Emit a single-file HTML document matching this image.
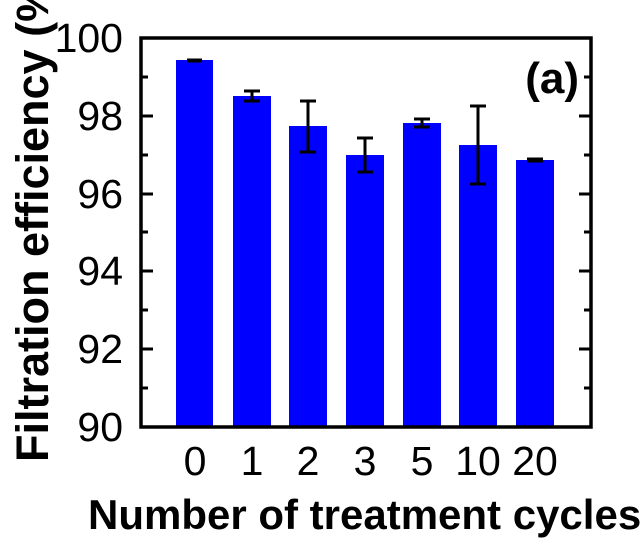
<!DOCTYPE html>
<html><head><style>
html,body{margin:0;padding:0;background:#fff;}
svg{display:block;}
text{font-family:"Liberation Sans",Arial,sans-serif;}
</style></head><body>
<svg width="640" height="550" viewBox="0 0 640 550" xmlns="http://www.w3.org/2000/svg">
<rect width="640" height="550" fill="#fff"/>
<g fill="#0000ff" stroke="none">
<rect x="176" y="60" width="37" height="367"/>
<rect x="233" y="96" width="38" height="331"/>
<rect x="289" y="126" width="38" height="301"/>
<rect x="346" y="155" width="38" height="272"/>
<rect x="403" y="123" width="38" height="304"/>
<rect x="459" y="145" width="38" height="282"/>
<rect x="516" y="160" width="38" height="267"/>
</g>
<g stroke="#000" stroke-width="3" fill="none">
<path d="M187 60H202M187 61H202"/>
<path d="M252 91V101M244 91H260M244 101H260"/>
<path d="M308 101V152M300 101H316M300 152H316"/>
<path d="M365 138V172M357 138H373M357 172H373"/>
<path d="M422 119V127M414 119H430M414 127H430"/>
<path d="M478 106V184M470 106H486M470 184H486"/>
<path d="M527 159H543M527 161H543"/>
</g>
<rect x="141" y="38" width="450" height="389" fill="none" stroke="#000" stroke-width="3.5"/>
<g stroke="#000" stroke-width="3">
<path d="M141 116H153M141 194H153M141 271H153M141 349H153"/>
<path d="M141 77H148M141 155H148M141 232H148M141 310H148M141 388H148"/>
<path d="M591 116H579M591 194H579M591 271H579M591 349H579"/>
<path d="M591 77H584M591 155H584M591 232H584M591 310H584M591 388H584"/>
</g>
<g font-size="41" text-anchor="end" fill="#000">
<text x="123" y="52">100</text>
<text x="123" y="130">98</text>
<text x="123" y="208">96</text>
<text x="123" y="285">94</text>
<text x="123" y="363">92</text>
<text x="123" y="441">90</text>
</g>
<g font-size="41" text-anchor="middle" fill="#000">
<text x="195" y="475">0</text>
<text x="252" y="475">1</text>
<text x="308" y="475">2</text>
<text x="365" y="475">3</text>
<text x="422" y="475">5</text>
<text x="478" y="475">10</text>
<text x="535" y="475">20</text>
</g>
<text x="579" y="93" font-size="44" font-weight="bold" text-anchor="end">(a)</text>
<text x="88" y="529" font-size="42" font-weight="bold">Number of treatment cycles</text>
<text transform="translate(48,462) rotate(-90)" font-size="45" font-weight="bold">Filtration efficiency (%)</text>
</svg>
</body></html>
